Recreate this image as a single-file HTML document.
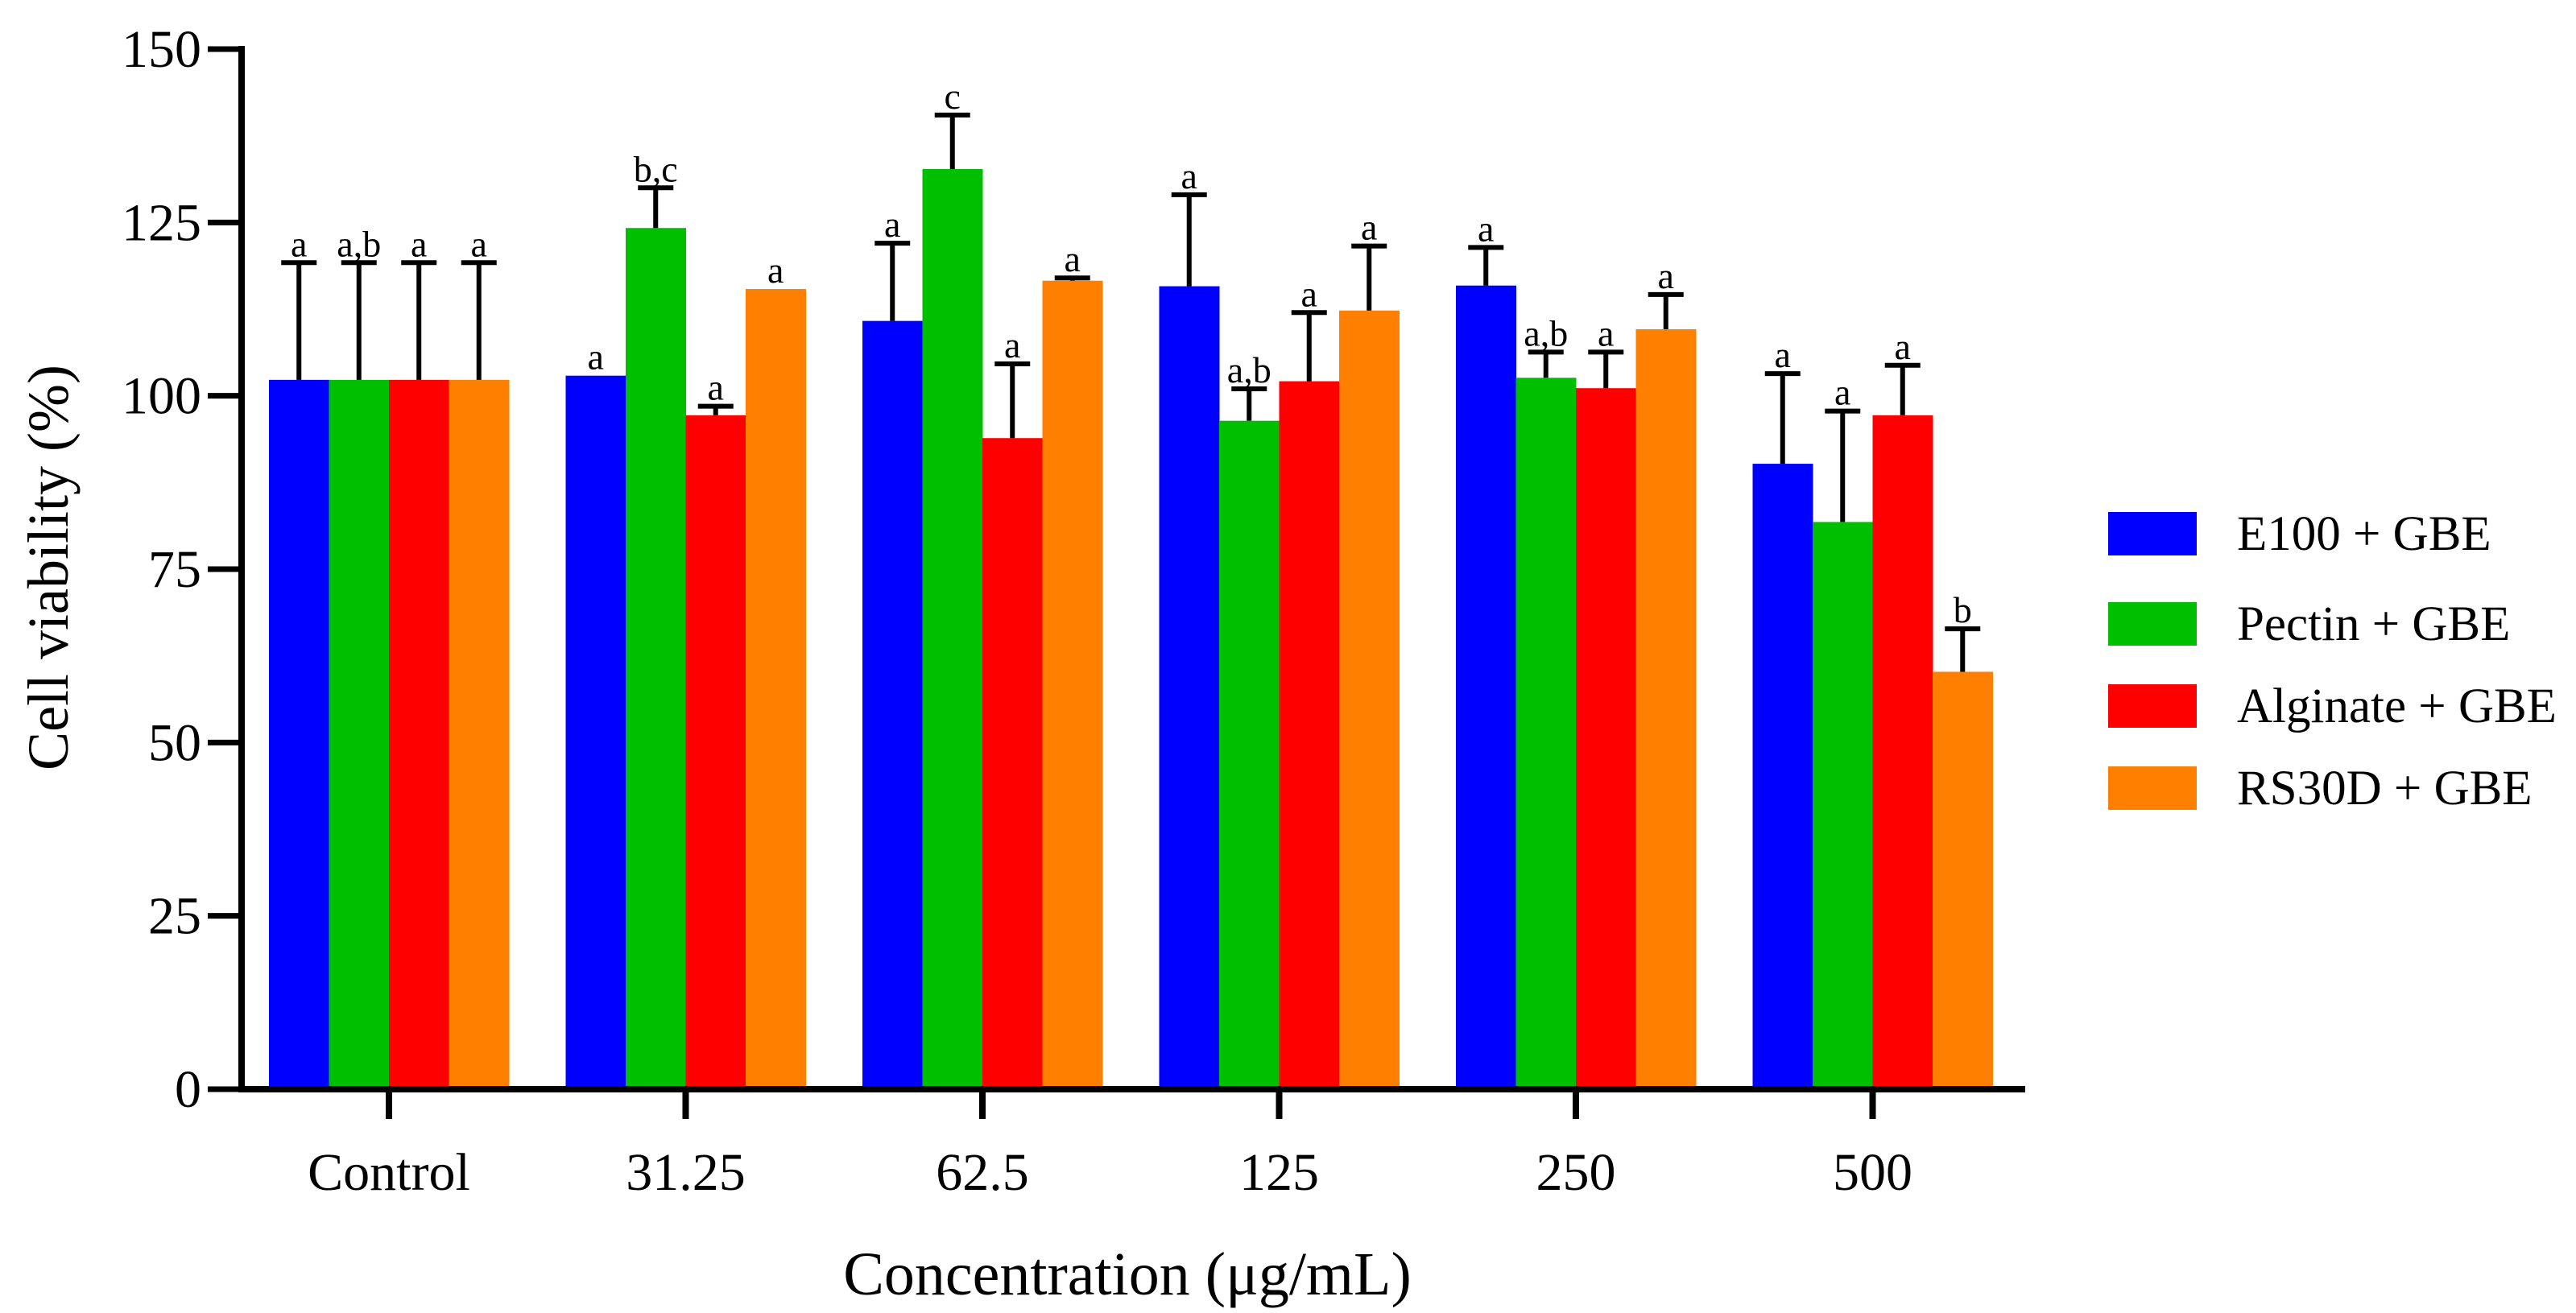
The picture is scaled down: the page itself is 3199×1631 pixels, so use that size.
<!DOCTYPE html>
<html><head><meta charset="utf-8"><style>
html,body{margin:0;padding:0;background:#fff;}
svg{display:block;font-family:"Liberation Serif",serif;}
</style></head><body>
<svg id="chart" width="3199" height="1631" viewBox="0 0 3199 1631">
<g id="bars"></g>
<g id="axes"></g>
<text x="84" y="705" transform="rotate(-90 84 705)" text-anchor="middle" font-size="72">Cell viability (%)</text>
<text x="1400" y="1608" text-anchor="middle" font-size="76">Concentration (μg/mL)</text>
<g id="legend"></g>
</svg>
<script>
const categories = ["Control","31.25","62.5","125","250","500"];
const seriesNames = ["E100 + GBE","Pectin + GBE","Alginate + GBE","RS30D + GBE"];
const seriesColors = ["#0000ff","#00bf00","#ff0000","#ff8000"];
const e100 = [102.3,102.9,110.8,115.8,115.9,90.2];
const pectin = [102.3,124.2,132.7,96.4,102.6,81.8];
const alginate = [102.3,97.2,93.9,102.1,101.1,97.2];
const rs30d = [102.3,115.4,116.6,112.3,109.6,60.2];
const e100Err = [16.9,0,11.2,13.2,5.5,13.0];
const pectinErr = [16.9,5.8,7.8,4.6,3.7,16.0];
const alginateErr = [16.9,1.3,10.7,9.9,5.2,7.2];
const rs30dErr = [16.9,0,0.4,9.3,5.0,6.2];
const e100Lab = ["a","a","a","a","a","a"];
const pectinLab = ["a,b","b,c","c","a,b","a,b","a"];
const alginateLab = ["a","a","a","a","a","a"];
const rs30dLab = ["a","a","a","a","a","b"];
const yTicks = [0,25,50,75,100,125,150];

const NS="http://www.w3.org/2000/svg";
const X0=300, Y0=1353, YTOP=61, XEND=2515;
const yScale=v=>Y0-(v/150)*(Y0-YTOP);
const catX=i=>483+i*368.5;
const BW=74.5;
function mk(tag,attrs,parent){const e=document.createElementNS(NS,tag);for(const k in attrs)e.setAttribute(k,attrs[k]);parent.appendChild(e);return e;}
const bars=document.getElementById('bars'), axes=document.getElementById('axes'), legend=document.getElementById('legend');
const vals=[e100,pectin,alginate,rs30d], errs=[e100Err,pectinErr,alginateErr,rs30dErr], labs=[e100Lab,pectinLab,alginateLab,rs30dLab];
const keys=["e100","pectin","alginate","rs30d"];
categories.forEach((c,i)=>{
  for(let s=0;s<4;s++){
    const x=catX(i)-2*BW+s*BW, v=vals[s][i], top=yScale(v);
    const r=mk('rect',{x:x,y:top,width:BW+0.5,height:Y0-top,fill:seriesColors[s]},bars);
    
    
    const cx=x+BW/2; let labY=top-8;
    if(errs[s][i]>0){
      const et=yScale(v+errs[s][i]);
      const g=mk('g',{stroke:'#000','stroke-width':6},bars);
      
      
      mk('line',{x1:cx,y1:top,x2:cx,y2:et},g);
      mk('line',{x1:cx-22,y1:et,x2:cx+22,y2:et},g);
      labY=et-8;
    }
    const t=mk('text',{x:cx,y:labY,'text-anchor':'middle','font-size':46},bars);
    t.textContent=labs[s][i];
    
    
  }
  const tk=mk('line',{x1:catX(i),y1:Y0,x2:catX(i),y2:1390,stroke:'#000','stroke-width':8},axes);
  
  
  const tl=mk('text',{x:catX(i),y:1478,'text-anchor':'middle','font-size':66},axes);
  tl.textContent=c;
  
  
});
const ya=mk('line',{x1:X0,y1:YTOP-4,x2:X0,y2:Y0+4,stroke:'#000','stroke-width':8},axes);


const xa=mk('line',{x1:X0-4,y1:Y0,x2:XEND,y2:Y0,stroke:'#000','stroke-width':8},axes);


yTicks.forEach(v=>{
  const y=yScale(v);
  const l=mk('line',{x1:258,y1:y,x2:X0,y2:y,stroke:'#000','stroke-width':7},axes);
  
  
  const t=mk('text',{x:250,y:y+22,'text-anchor':'end','font-size':66},axes);
  t.textContent=v;
  
  
});
const legY=[663,775,877,979];
seriesNames.forEach((n,s)=>{
  const g=mk('g',{},legend);
  
  
  mk('rect',{x:2618,y:legY[s]-27,width:110,height:54,fill:seriesColors[s]},g);
  const t=mk('text',{x:2778,y:legY[s]+20,'font-size':61},g);
  t.textContent=n;
});
</script>
</body></html>
